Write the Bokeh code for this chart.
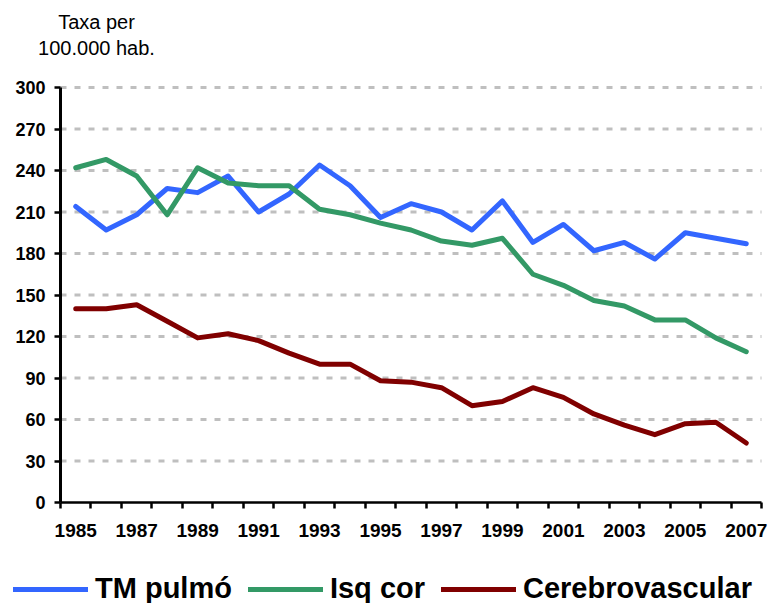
from bokeh.plotting import figure
from bokeh.models import FixedTicker, Legend, LegendItem, Range1d, Label
from bokeh.embed import file_html
from bokeh.resources import INLINE

years = list(range(1985, 2008))
tm_pulmo = [214, 197, 208, 227, 224, 236, 210, 223, 244, 229, 206, 216, 210,
            197, 218, 188, 201, 182, 188, 176, 195, 191, 187]
isq_cor = [242, 248, 236, 208, 242, 231, 229, 229, 212, 208, 202, 197, 189,
           186, 191, 165, 157, 146, 142, 132, 132, 119, 109]
cerebro = [140, 140, 143, 131, 119, 122, 117, 108, 100, 100, 88, 87, 83,
           70, 73, 83, 76, 64, 56, 49, 57, 58, 43]
tick_years = list(range(1985, 2008, 2))
y_ticks = list(range(0, 301, 30))
series_labels = ["TM pulmó", "Isq cor", "Cerebrovascular"]
series_colors = ["#3366FF", "#339966", "#800000"]
unit_lines = ["Taxa per", "100.000 hab."]

FONT = "Liberation Sans"
W, H = 769, 603

# plot-area geometry (pixels) -> data ranges
x_lo, x_hi = years[0] - 0.5, years[-1] + 0.5
y_lo, y_hi = y_ticks[0], y_ticks[-1]
left_px, right_px, top_px, bottom_px = 60, 761, 87, 502
ppx = (right_px - left_px) / (x_hi - x_lo)
ppy = (bottom_px - top_px) / (y_hi - y_lo)
xr = Range1d(x_lo - left_px / ppx, x_hi + (W - right_px) / ppx)
yr = Range1d(y_lo - (H - bottom_px) / ppy, y_hi + top_px / ppy)
boundaries = [y - 0.5 for y in years] + [x_hi]

p = figure(width=W, height=H, output_backend="svg", toolbar_location=None,
           x_range=xr, y_range=yr,
           min_border_left=0, min_border_right=0, min_border_top=0,
           min_border_bottom=0)
p.outline_line_color = None
p.background_fill_color = "white"
p.border_fill_color = "white"
p.xgrid.visible = False
p.ygrid.visible = False

# dashed horizontal gridlines, only across the plot area
p.segment(x0=x_lo, x1=x_hi, y0=y_ticks[1:], y1=y_ticks[1:],
          line_color="#BFBFBF", line_width=3, line_dash="6 8")

renderers = []
for vals, col in zip([tm_pulmo, isq_cor, cerebro], series_colors):
    r = p.line(years, vals, line_width=5, line_color=col,
               line_join="round", line_cap="round")
    renderers.append(r)

# x axis
xa = p.xaxis[0]
xa.fixed_location = y_lo
xa.bounds = (x_lo, x_hi)
xa.ticker = FixedTicker(ticks=tick_years, minor_ticks=boundaries)
xa.major_tick_out = 0
xa.major_tick_in = 0
xa.minor_tick_out = 6
xa.minor_tick_in = 0
xa.minor_tick_line_width = 2.5
xa.minor_tick_line_color = "black"
xa.axis_line_width = 2.5
xa.axis_line_color = "black"
xa.major_label_text_font = FONT
xa.major_label_text_font_style = "bold"
xa.major_label_text_font_size = "19px"
xa.major_label_text_color = "black"
xa.major_label_standoff = 15

# y axis
ya = p.yaxis[0]
ya.fixed_location = x_lo
ya.bounds = (y_lo, y_hi)
ya.ticker = FixedTicker(ticks=y_ticks)
ya.major_tick_out = 6
ya.major_tick_in = 0
ya.minor_tick_out = 0
ya.minor_tick_in = 0
ya.major_tick_line_width = 2.5
ya.major_tick_line_color = "black"
ya.axis_line_width = 3
ya.axis_line_color = "black"
ya.major_label_text_font = FONT
ya.major_label_text_font_style = "bold"
ya.major_label_text_font_size = "18px"
ya.major_label_text_color = "black"
ya.major_label_standoff = 9

# unit label above the y axis
unit_x = xr.start + 96 / ppx
for txt, base_px in zip(unit_lines, [21, 47]):
    p.add_layout(Label(x=unit_x, y=yr.end - base_px / ppy, text=txt,
                       text_align="center", text_baseline="alphabetic",
                       text_font=FONT, text_font_size="20px",
                       text_color="black"))

legend = Legend(items=[LegendItem(label=lab, renderers=[r])
                       for lab, r in zip(series_labels, renderers)],
                orientation="horizontal", location=(13, -2),
                padding=0, margin=0, spacing=16, label_standoff=7,
                glyph_width=75, glyph_height=30, label_height=30,
                label_text_font=FONT, label_text_font_size="29px",
                label_text_font_style="bold", label_text_color="black",
                border_line_color=None, background_fill_alpha=0)
p.add_layout(legend)

open("out.html", "w").write(file_html(p, INLINE))
